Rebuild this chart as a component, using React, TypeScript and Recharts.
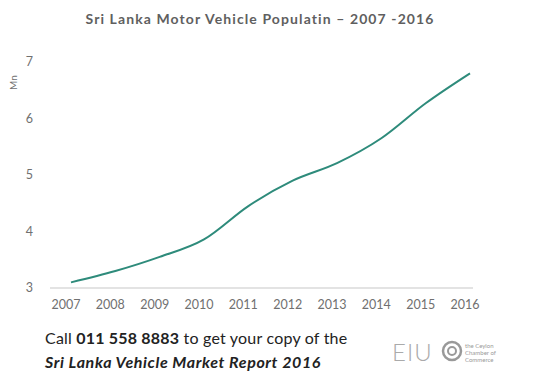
import { LineChart, Line, XAxis, YAxis, Label } from "recharts"

const years = ["2007", "2008", "2009", "2010", "2011", "2012", "2013", "2014", "2015", "2016"]
const vehicles = [3.1, 3.3, 3.55, 3.86, 4.45, 4.9, 5.21, 5.65, 6.27, 6.8]
const yTicks = [3, 4, 5, 6, 7]

const data = years.map((year, i) => ({ year, vehicles: vehicles[i] }))

export default function App() {
  return (
    <div style={{ position: "relative", left: -8, top: -8, width: 539, height: 374, background: "#fff", fontFamily: "Lato" }}>
      <div
        style={{
          position: "absolute",
          top: 10,
          left: 0,
          width: 520,
          textAlign: "center",
          fontSize: 14,
          fontWeight: 700,
          color: "#5f5f5f",
          letterSpacing: 1.1,
        }}
      >
        Sri Lanka Motor Vehicle Populatin – 2007 -2016
      </div>
      <LineChart width={539} height={374} data={data} margin={{ top: 62, right: 66, bottom: 56, left: 10 }}>
        <XAxis
          dataKey="year"
          height={30}
          padding={{ left: 21, right: 3 }}
          tickLine={false}
          axisLine={{ stroke: "#dadada", strokeWidth: 1.5 }}
          tick={{ fill: "#707070", fontSize: 12.5, fontFamily: "Lato", dx: -5 }}
          tickMargin={6}
          interval={0}
        />
        <YAxis
          domain={[3, 7]}
          ticks={yTicks}
          width={40}
          axisLine={false}
          tickLine={false}
          tick={{ fill: "#707070", fontSize: 12.5, fontFamily: "Lato" }}
          tickMargin={11}
        >
          <Label value="Mn" angle={-90} position="insideTopLeft" offset={0} dx={0} dy={28} style={{ fill: "#707070", fontSize: 10 }} />
        </YAxis>
        <Line
          type="monotone"
          dataKey="vehicles"
          stroke="#2e8b7b"
          strokeWidth={2}
          dot={false}
          isAnimationActive={false}
        />
      </LineChart>
      <div style={{ position: "absolute", left: 45, top: 326, fontSize: 16, color: "#222", lineHeight: "24px" }}>
        <div style={{ letterSpacing: 0.2 }}>
          Call <b>011 558 8883</b> to get your copy of the
        </div>
        <div style={{ fontStyle: "italic", fontWeight: 700, letterSpacing: 0.6 }}>Sri Lanka Vehicle Market Report 2016</div>
      </div>
      <div style={{ position: "absolute", left: 392, top: 337, fontSize: 24, color: "#aaa", fontWeight: 300, letterSpacing: 1 }}>
        EIU
      </div>
      <svg style={{ position: "absolute", left: 440, top: 338 }} width={60} height={26}>
        <circle cx={12} cy={13} r={9} fill="none" stroke="#999" strokeWidth={2.5} />
        <circle cx={12} cy={13} r={4} fill="none" stroke="#999" strokeWidth={2} />
        <text x={25} y={10} fontSize={6} fill="#999">the Ceylon</text>
        <text x={25} y={17} fontSize={6} fill="#999">Chamber of</text>
        <text x={25} y={24} fontSize={6} fill="#999">Commerce</text>
      </svg>
    </div>
  )
}
